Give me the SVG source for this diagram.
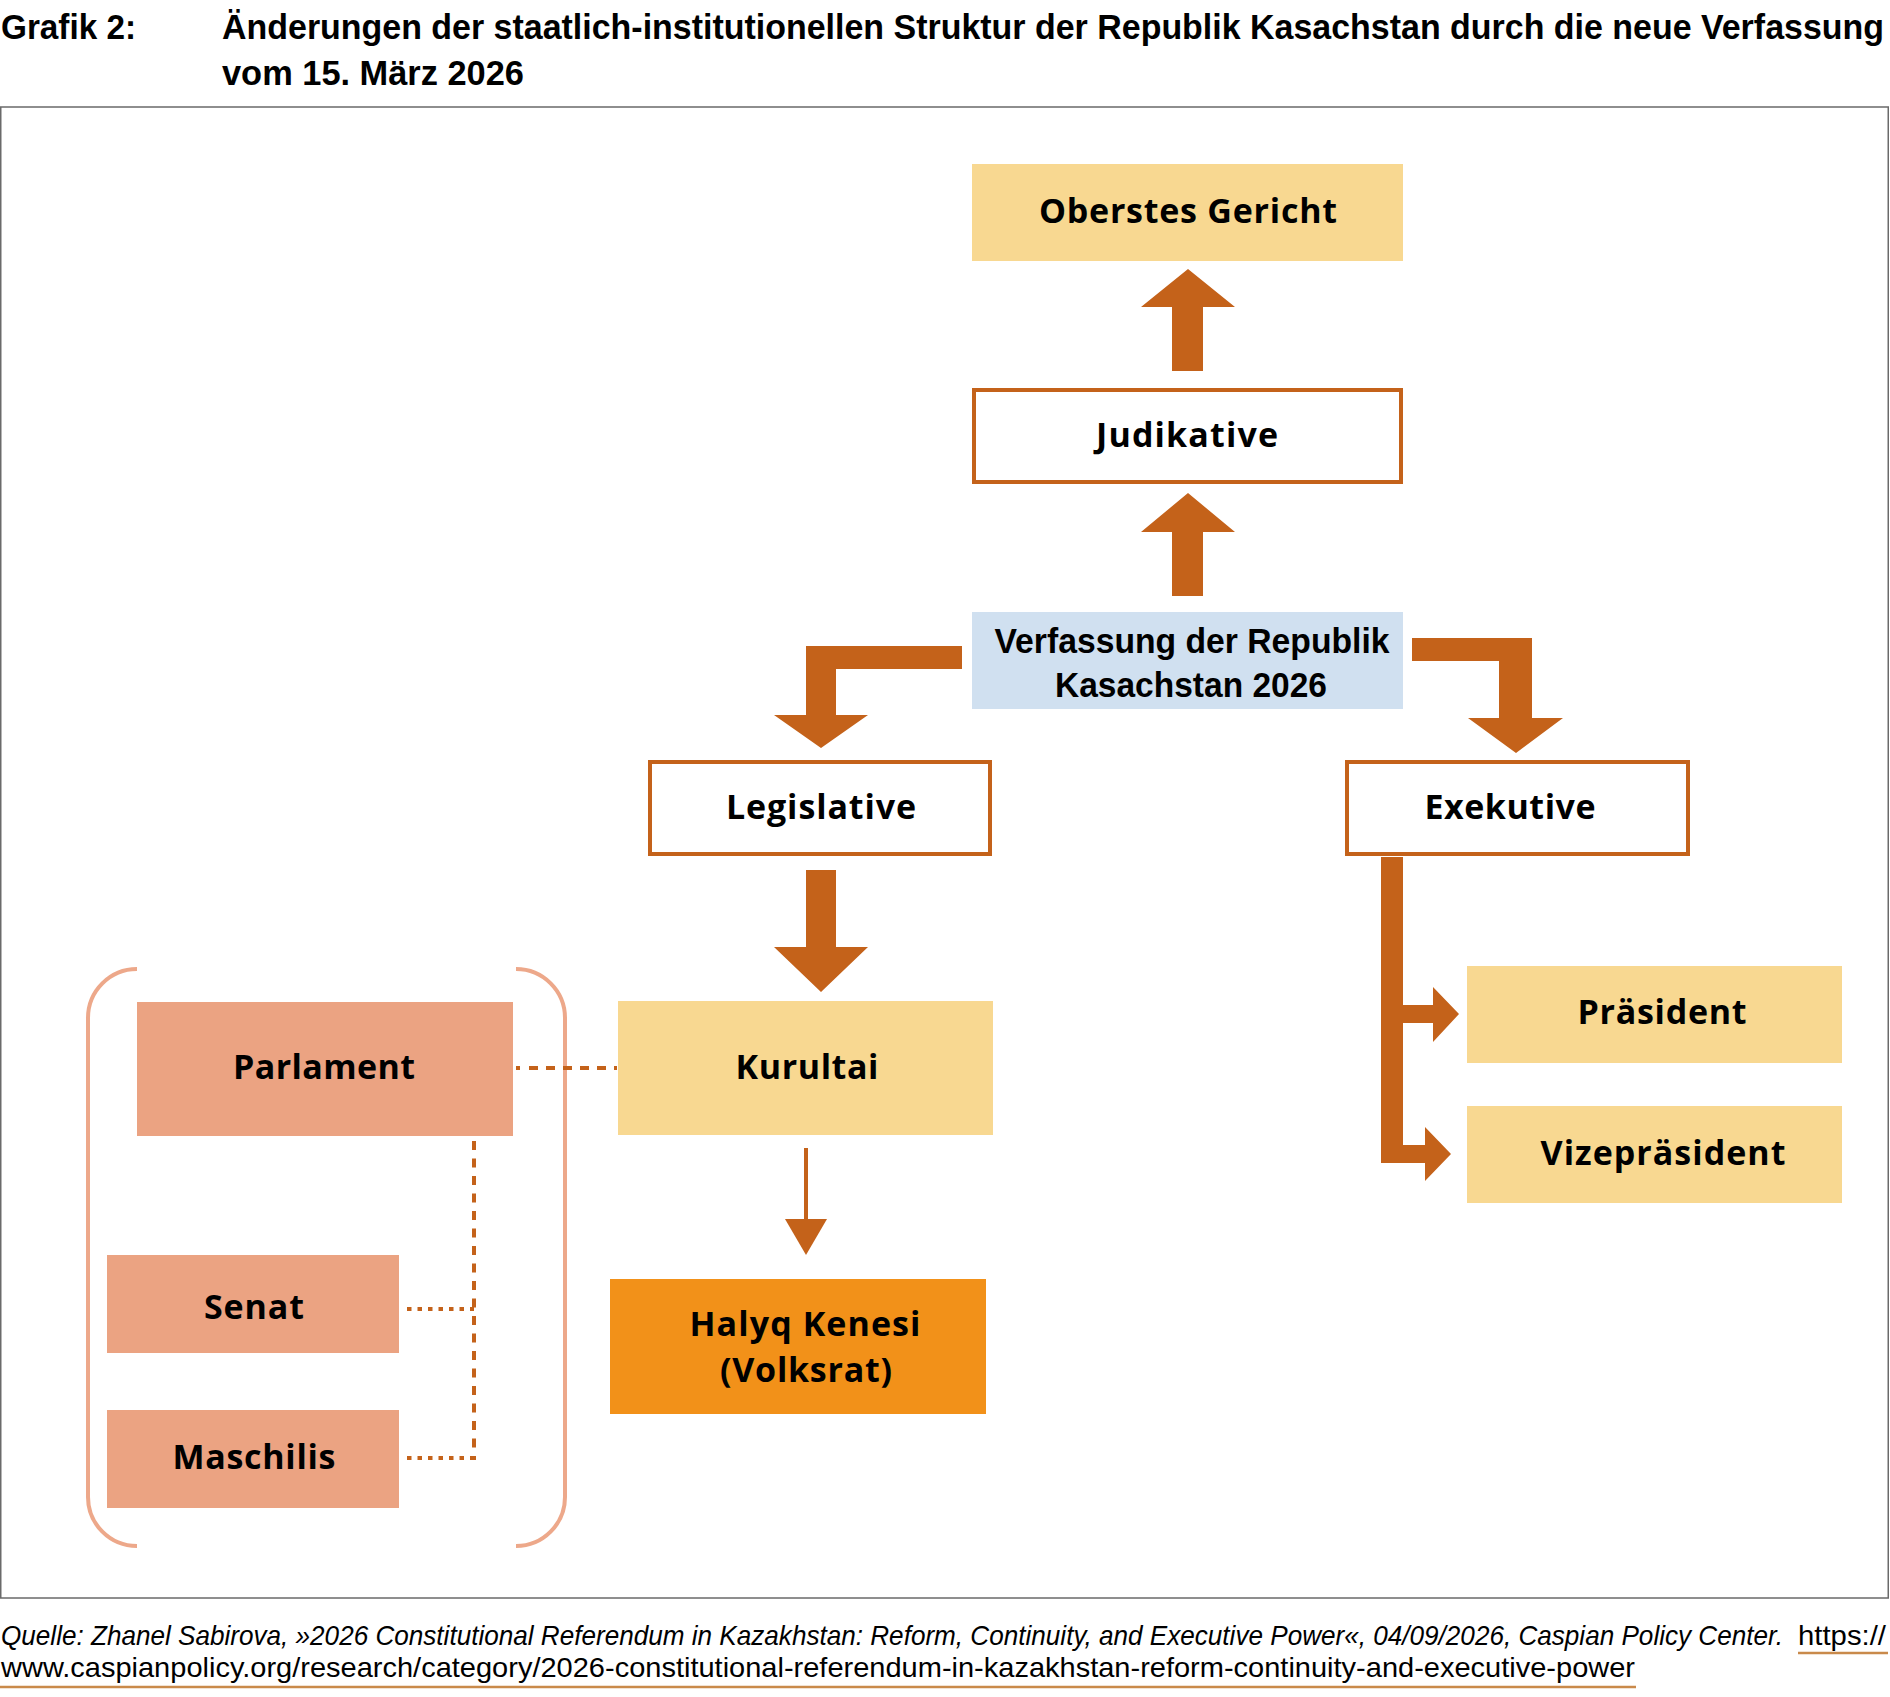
<svg xmlns="http://www.w3.org/2000/svg" width="1890" height="1697" viewBox="0 0 1890 1697">
<style>
.title{font-family:"Liberation Sans",Arial,sans-serif;font-weight:700;font-size:35px;fill:#000}
.lbl{font-family:"Open Sans","Noto Sans",sans-serif;font-weight:700;font-size:34px;fill:#000;text-anchor:middle}
.cond{font-family:"Liberation Sans",Arial,sans-serif;font-weight:700;font-size:35px;fill:#000;text-anchor:middle}
.src{font-family:"Liberation Sans",Arial,sans-serif;font-size:28px;fill:#000}
.yel{fill:#f8d891}
.sal{fill:#eba382}
.frame{fill:#fff;stroke:#c4621a;stroke-width:4}
.arr{fill:#c4621a}
.dash{fill:none;stroke:#c4621a;stroke-width:4}
.brk{fill:none;stroke:#eda88a;stroke-width:4}
.ul{stroke:#c98a4b;stroke-width:2.5}
</style>

<g id="title">
<text class="title" x="1" y="39" textLength="135" lengthAdjust="spacingAndGlyphs">Grafik 2:</text>
<text class="title" x="222" y="39" textLength="1662" lengthAdjust="spacingAndGlyphs">Änderungen der staatlich-institutionellen Struktur der Republik Kasachstan durch die neue Verfassung</text>
<text class="title" x="222" y="85" textLength="302" lengthAdjust="spacingAndGlyphs">vom 15. März 2026</text>
</g>

<rect x="0.75" y="107" width="1887.5" height="1491" fill="none" stroke="#6a6a6a" stroke-width="1.5"/>

<g id="brackets">
<path class="brk" d="M137,969 A49,49 0 0 0 88,1018 L88,1497 A49,49 0 0 0 137,1546"/>
<path class="brk" d="M516,969 A49,49 0 0 1 565,1018 L565,1497 A49,49 0 0 1 516,1546"/>
</g>

<g id="connectors">
<polygon class="arr" points="1172,371 1172,307 1141,307 1188,269 1235,307 1203,307 1203,371"/>
<polygon class="arr" points="1172,596 1172,532 1141,532 1188,493 1235,532 1203,532 1203,596"/>
<polygon class="arr" points="962,646 806,646 806,715 774,715 821,748 868,715 836,715 836,669 962,669"/>
<polygon class="arr" points="1412,638 1532,638 1532,718 1563,718 1516,753 1468,718 1499,718 1499,661 1412,661"/>
<polygon class="arr" points="806,870 836,870 836,947 868,947 821,992 774,947 806,947"/>
<line x1="806" y1="1148" x2="806" y2="1222" stroke="#c4621a" stroke-width="4"/>
<polygon class="arr" points="785,1219 827,1219 806,1255"/>
<polygon class="arr" points="1381,857 1403,857 1403,1005 1433,1005 1433,987 1459,1014 1433,1042 1433,1023 1403,1023 1403,1145 1425,1145 1425,1127 1451,1154 1425,1181 1425,1163 1381,1163"/>
<line class="dash" x1="516" y1="1068" x2="617" y2="1068" stroke-dasharray="4 9 9 8 9 8 9 8 9 8 9 8 4"/>
<line class="dash" x1="474" y1="1141" x2="474" y2="1460" stroke-dasharray="9 8.5"/>
<line class="dash" x1="407" y1="1309" x2="474" y2="1309" stroke-dasharray="4.5 6"/>
<line class="dash" x1="407" y1="1458" x2="476" y2="1458" stroke-dasharray="4.5 6"/>
</g>

<g id="n-oberstes">
<rect class="yel" x="972" y="164" width="431" height="97"/>
<text class="lbl" x="1188" y="223" textLength="298" lengthAdjust="spacing">Oberstes Gericht</text>
</g>
<g id="n-judikative">
<rect class="frame" x="974" y="390" width="427" height="92"/>
<text class="lbl" x="1187" y="447" textLength="182" lengthAdjust="spacing">Judikative</text>
</g>
<g id="n-verfassung">
<rect fill="#d0e0f0" x="972" y="612" width="431" height="97"/>
<text class="cond" x="1192" y="653" textLength="395" lengthAdjust="spacingAndGlyphs">Verfassung der Republik</text>
<text class="cond" x="1191" y="697" textLength="272" lengthAdjust="spacingAndGlyphs">Kasachstan 2026</text>
</g>
<g id="n-legislative">
<rect class="frame" x="650" y="762" width="340" height="92"/>
<text class="lbl" x="821" y="819" textLength="190" lengthAdjust="spacing">Legislative</text>
</g>
<g id="n-exekutive">
<rect class="frame" x="1347" y="762" width="341" height="92"/>
<text class="lbl" x="1510" y="819" textLength="171" lengthAdjust="spacing">Exekutive</text>
</g>
<g id="n-kurultai">
<rect class="yel" x="618" y="1001" width="375" height="134"/>
<text class="lbl" x="807" y="1079" textLength="143" lengthAdjust="spacing">Kurultai</text>
</g>
<g id="n-parlament">
<rect class="sal" x="137" y="1002" width="376" height="134"/>
<text class="lbl" x="324" y="1079" textLength="182" lengthAdjust="spacing">Parlament</text>
</g>
<g id="n-senat">
<rect class="sal" x="107" y="1255" width="292" height="98"/>
<text class="lbl" x="254" y="1319" textLength="100" lengthAdjust="spacing">Senat</text>
</g>
<g id="n-maschilis">
<rect class="sal" x="107" y="1410" width="292" height="98"/>
<text class="lbl" x="254" y="1469" textLength="163" lengthAdjust="spacing">Maschilis</text>
</g>
<g id="n-halyq">
<rect fill="#f29119" x="610" y="1279" width="376" height="135"/>
<text class="lbl" x="805" y="1336" textLength="231" lengthAdjust="spacing">Halyq Kenesi</text>
<text class="lbl" x="806" y="1382" textLength="172" lengthAdjust="spacing">(Volksrat)</text>
</g>
<g id="n-praesident">
<rect class="yel" x="1467" y="966" width="375" height="97"/>
<text class="lbl" x="1662" y="1024" textLength="169" lengthAdjust="spacing">Präsident</text>
</g>
<g id="n-vize">
<rect class="yel" x="1467" y="1106" width="375" height="97"/>
<text class="lbl" x="1663" y="1165" textLength="245" lengthAdjust="spacing">Vizepräsident</text>
</g>

<g id="source">
<text class="src" x="1" y="1645" font-style="italic" textLength="1782" lengthAdjust="spacingAndGlyphs">Quelle: Zhanel Sabirova, »2026 Constitutional Referendum in Kazakhstan: Reform, Continuity, and Executive Power«, 04/09/2026, Caspian Policy Center.</text>
<text class="src" x="1798" y="1645" textLength="88" lengthAdjust="spacingAndGlyphs">https://</text>
<line class="ul" x1="1798" y1="1653" x2="1888" y2="1653"/>
<text class="src" x="1" y="1677" textLength="1634" lengthAdjust="spacingAndGlyphs">www.caspianpolicy.org/research/category/2026-constitutional-referendum-in-kazakhstan-reform-continuity-and-executive-power</text>
<line class="ul" x1="0" y1="1687" x2="1636" y2="1687"/>
</g>
</svg>
